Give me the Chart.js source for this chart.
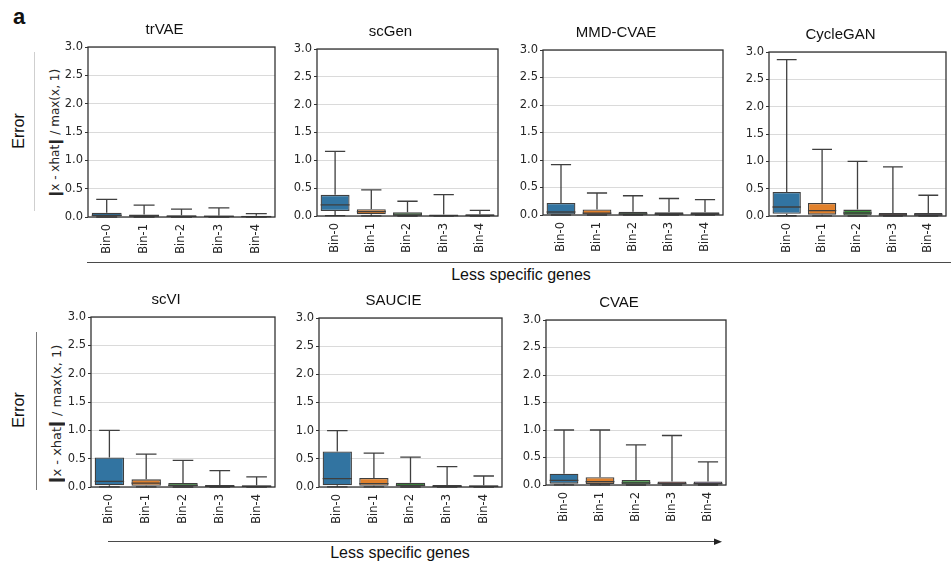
<!DOCTYPE html>
<html>
<head>
<meta charset="utf-8">
<script src="https://cdn.jsdelivr.net/npm/chart.js@4.4.1/dist/chart.umd.min.js"></script>
<style>
  html, body { margin: 0; padding: 0; background: #fff; }
  #fig { position: relative; width: 951px; height: 564px; overflow: hidden; background: #fff; }
  canvas { position: absolute; }
  .txt { position: absolute; color: #111; white-space: nowrap; font-family: "Liberation Sans", Arial, sans-serif; }
  .rot { transform: translate(-50%, -50%) rotate(-90deg); }
  .ctr { transform: translate(-50%, -50%); }
  .hline { position: absolute; height: 0; border-top: 1.5px solid #4a4a4a; }
  .vline { position: absolute; width: 0; }
  .ylab { font-family: "DejaVu Sans", sans-serif; color: #262626; }
  .ylab b { font-weight: 900; display: inline-block; transform: scaleX(1.9) scaleY(1.15); margin: 0 1px; }
</style>
</head>
<body>
<div id="fig">
  <div class="txt" style="left:13px; top:4px; font-size:22px; font-weight:bold;">a</div>

  <div class="txt rot" style="left:19px; top:131px; font-size:16px;">Error</div>
  <div class="vline" style="left:34px; top:52px; height:159px; border-left:1px solid #cfcfcf;"></div>
  <div class="txt rot ylab" style="left:55px; top:133px; font-size:12px;"><b>|</b>x - xhat<b>|</b> / max(x, 1)</div>

  <div class="txt rot" style="left:19px; top:410px; font-size:16px;">Error</div>
  <div class="vline" style="left:36px; top:332px; height:158px; border-left:1.5px solid #777;"></div>
  <div class="txt rot ylab" style="left:56px; top:414px; font-size:13px;"><b>|</b>x - xhat<b>|</b> / max(x, 1)</div>

  <div class="hline" style="left:87px; top:262px; width:864px;"></div>
  <div class="txt ctr" style="left:521px; top:275px; font-size:16px;">Less specific genes</div>

  <div class="hline" style="left:108px; top:541px; width:610px;"></div>
  <svg style="position:absolute; left:714px; top:537px;" width="10" height="10"><polygon points="0,1.5 8,4.75 0,8" fill="#222"/></svg>
  <div class="txt ctr" style="left:400px; top:553px; font-size:16px;">Less specific genes</div>
</div>
<script>
// ---------------- data ----------------
const binLabels = ['Bin-0', 'Bin-1', 'Bin-2', 'Bin-3', 'Bin-4'];
const methodNames = ['trVAE', 'scGen', 'MMD-CVAE', 'CycleGAN', 'scVI', 'SAUCIE', 'CVAE'];
const yTicks = [0.0, 0.5, 1.0, 1.5, 2.0, 2.5, 3.0];

// one row per method, one column per bin
const whiskerHigh = [
  [0.31, 0.21, 0.14, 0.16, 0.06],
  [1.16, 0.47, 0.265, 0.385, 0.10],
  [0.915, 0.40, 0.35, 0.30, 0.28],
  [2.86, 1.22, 1.00, 0.90, 0.38],
  [1.00, 0.58, 0.47, 0.29, 0.18],
  [1.00, 0.60, 0.53, 0.36, 0.195],
  [1.00, 1.00, 0.73, 0.90, 0.42]
];
const q3Values = [
  [0.075, 0.045, 0.03, 0.025, 0.02],
  [0.38, 0.12, 0.066, 0.025, 0.03],
  [0.22, 0.10, 0.06, 0.05, 0.05],
  [0.44, 0.24, 0.117, 0.055, 0.055],
  [0.52, 0.135, 0.07, 0.035, 0.03],
  [0.63, 0.16, 0.077, 0.035, 0.03],
  [0.205, 0.14, 0.09, 0.065, 0.065]
];
const medianValues = [
  [0.03, 0.02, 0.012, 0.01, 0.008],
  [0.20, 0.08, 0.02, 0.008, 0.01],
  [0.055, 0.035, 0.02, 0.015, 0.015],
  [0.165, 0.10, 0.055, 0.02, 0.02],
  [0.10, 0.07, 0.03, 0.012, 0.01],
  [0.15, 0.06, 0.03, 0.012, 0.01],
  [0.085, 0.06, 0.04, 0.03, 0.025]
];
const q1Values = [
  [0.01, 0.005, 0.003, 0.003, 0.002],
  [0.09, 0.03, 0.005, 0.002, 0.003],
  [0.01, 0.008, 0.005, 0.004, 0.004],
  [0.04, 0.025, 0.01, 0.005, 0.005],
  [0.03, 0.02, 0.008, 0.004, 0.003],
  [0.03, 0.02, 0.008, 0.004, 0.003],
  [0.025, 0.02, 0.01, 0.008, 0.007]
];
const whiskerLow = [
  [0.0, 0.0, 0.0, 0.0, 0.0],
  [0.008, 0.003, 0.0, 0.0, 0.0],
  [0.0, 0.0, 0.0, 0.0, 0.0],
  [0.005, 0.003, 0.0, 0.0, 0.0],
  [0.003, 0.002, 0.0, 0.0, 0.0],
  [0.003, 0.002, 0.0, 0.0, 0.0],
  [0.002, 0.002, 0.0, 0.0, 0.0]
];

// ---------------- styles / layout ----------------
const binColors = ['#3274a1', '#e1812c', '#3a923a', '#c03d3e', '#9372b2'];
const lineGray = '#3f3f3f';
// plot-area rectangles [left, top, right, bottom] for each panel
const plotRects = [
  [88, 47, 275, 217],
  [317, 49, 498, 216],
  [543, 50, 723, 215],
  [769, 52, 946, 216],
  [91, 317, 275, 487],
  [319, 318, 502, 487],
  [546, 320, 726, 485]
];
const Y_AXIS_W = 34, TITLE_H = 26, X_AXIS_H = 42, PAD_R = 3;

const boxPlugin = {
  id: 'boxWhiskers',
  afterDatasetsDraw(chart, args, opts) {
    const m = opts.panel;
    const ctx = chart.ctx;
    const ys = chart.scales.y;
    const meta = chart.getDatasetMeta(0);
    ctx.save();
    ctx.strokeStyle = lineGray;
    ctx.lineWidth = 1.3;
    meta.data.forEach((bar, i) => {
      const x = bar.x, w = bar.width;
      const cap = w * 0.35;
      const yHi = ys.getPixelForValue(whiskerHigh[m][i]);
      const yQ3 = ys.getPixelForValue(q3Values[m][i]);
      const yQ1 = ys.getPixelForValue(q1Values[m][i]);
      const yLo = ys.getPixelForValue(whiskerLow[m][i]);
      const yMed = ys.getPixelForValue(medianValues[m][i]);
      ctx.beginPath();
      ctx.moveTo(x, yQ3); ctx.lineTo(x, yHi);
      ctx.moveTo(x - cap, yHi); ctx.lineTo(x + cap, yHi);
      ctx.moveTo(x, yQ1); ctx.lineTo(x, yLo);
      ctx.moveTo(x - cap, yLo); ctx.lineTo(x + cap, yLo);
      ctx.moveTo(x - w / 2, yMed); ctx.lineTo(x + w / 2, yMed);
      ctx.stroke();
    });
    ctx.restore();
  }
};

const framePlugin = {
  id: 'frame',
  afterDraw(chart) {
    const a = chart.chartArea, ctx = chart.ctx;
    ctx.save();
    ctx.strokeStyle = '#333';
    ctx.lineWidth = 1.3;
    ctx.strokeRect(a.left, a.top, a.right - a.left, a.bottom - a.top);
    ctx.restore();
  }
};

const fig = document.getElementById('fig');
methodNames.forEach((name, m) => {
  const [L, T, R, B] = plotRects[m];
  const cw = Y_AXIS_W + (R - L) + PAD_R;
  const ch = TITLE_H + (B - T) + X_AXIS_H;
  const cv = document.createElement('canvas');
  cv.width = cw; cv.height = ch;
  cv.style.left = (L - Y_AXIS_W) + 'px';
  cv.style.top = (T - TITLE_H) + 'px';
  cv.style.width = cw + 'px'; cv.style.height = ch + 'px';
  fig.appendChild(cv);

  new Chart(cv, {
    type: 'bar',
    data: {
      labels: binLabels,
      datasets: [{
        data: binLabels.map((_, i) => [q1Values[m][i], q3Values[m][i]]),
        backgroundColor: binColors,
        borderColor: lineGray,
        borderWidth: 1.3,
        borderSkipped: false,
        barPercentage: 0.8,
        categoryPercentage: 1.0
      }]
    },
    options: {
      responsive: false,
      animation: false,
      devicePixelRatio: 1,
      layout: { padding: { left: 0, top: 0, bottom: 0, right: PAD_R } },
      plugins: {
        legend: { display: false },
        tooltip: { enabled: false },
        title: {
          display: true,
          text: name,
          color: '#111',
          font: { family: '"Liberation Sans", Arial, sans-serif', size: 15, weight: 'normal' },
          padding: { top: 0, bottom: 8 }
        },
        boxWhiskers: { panel: m }
      },
      scales: {
        x: {
          type: 'category',
          offset: true,
          afterFit: (s) => { s.height = X_AXIS_H; },
          grid: { display: true, drawOnChartArea: false, drawTicks: true, tickLength: 4, color: 'rgba(0,0,0,0)', tickColor: 'rgba(0,0,0,0)' },
          border: { display: false },
          ticks: {
            minRotation: 90, maxRotation: 90, autoSkip: false, padding: 3,
            color: '#262626',
            font: { family: '"DejaVu Sans", sans-serif', size: 11.5 }
          }
        },
        y: {
          min: 0, max: 3,
          afterFit: (s) => { s.width = Y_AXIS_W; },
          afterBuildTicks: (s) => { s.ticks = yTicks.map(v => ({ value: v })); },
          grid: { color: '#dadada', lineWidth: 1, tickLength: 3, tickColor: '#333', drawTicks: true },
          border: { display: false },
          ticks: {
            padding: 2,
            color: '#262626',
            font: { family: '"DejaVu Sans", sans-serif', size: 11.5 },
            callback: (v) => Number(v).toFixed(1)
          }
        }
      }
    },
    plugins: [boxPlugin, framePlugin]
  });
});
</script>
</body>
</html>
